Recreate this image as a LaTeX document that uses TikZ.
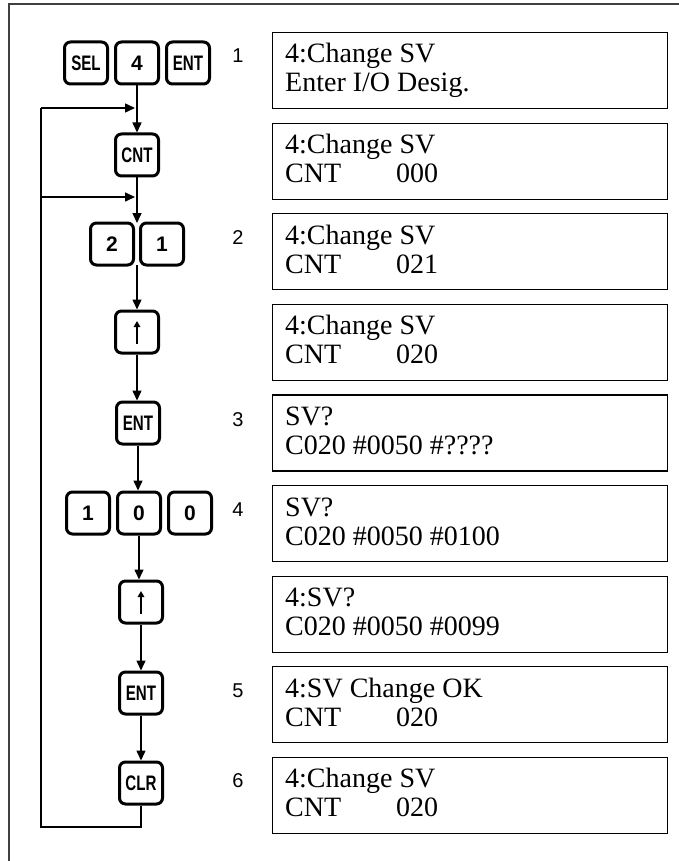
\documentclass[tikz,border=0pt]{standalone}
\usepackage{fontspec}
\usepackage{graphicx}
\setmainfont{Liberation Serif}
\newfontfamily\keyfont{Liberation Sans}
\usetikzlibrary{arrows.meta}
\newcommand\keylab[1]{\scalebox{0.72}[1]{#1}}
\begin{document}
\begin{tikzpicture}[x=1pt,y=-1pt,
  key/.style={draw, line width=3pt, rounded corners=6pt, minimum width=43pt, minimum height=42pt, inner sep=0pt, font=\keyfont\bfseries\fontsize{21}{21}\selectfont},
  disp/.style={draw, line width=1.1pt, minimum width=395pt, minimum height=76pt, inner sep=0pt, anchor=north west},
  txt/.style={anchor=base west, inner sep=0pt, font=\fontsize{28}{30}\selectfont},
  num/.style={font=\keyfont\fontsize{20}{20}\selectfont, inner sep=0pt},
  flow/.style={line width=1.5pt, -{Triangle[length=10pt,width=9pt]}},
  plain/.style={line width=1.5pt},
  uparrow/.style={line width=1.8pt, -{Triangle[length=6pt,width=6.5pt]}},
]
\useasboundingbox (0,0) rectangle (679,861);
% outer frame
\draw[line width=1.3pt, black!75] (9,861) -- (9,4) -- (679,4);

% display boxes
\node[disp] (d1) at (272,32) {};
\node[txt] (d1a) at (285,63) {4:Change SV};
\node[txt] (d1b) at (285,92) {Enter I/O Desig.};

\node[disp] (d2) at (272,122.6) {};
\node[txt] (d2a) at (285,153.6) {4:Change SV};
\node[txt] (d2b) at (285,182.6) {CNT};
\node[txt] (d2c) at (396,182.6) {000};

\node[disp] (d3) at (272,213.2) {};
\node[txt] (d3a) at (285,244.2) {4:Change SV};
\node[txt] (d3b) at (285,273.2) {CNT};
\node[txt] (d3c) at (396,273.2) {021};

\node[disp] (d4) at (272,303.8) {};
\node[txt] (d4a) at (285,334.8) {4:Change SV};
\node[txt] (d4b) at (285,363.8) {CNT};
\node[txt] (d4c) at (396,363.8) {020};

\node[disp] (d5) at (272,394.4) {};
\node[txt] (d5a) at (285,425.4) {SV?};
\node[txt] (d5b) at (285,454.4) {C020 \#0050 \#????};

\node[disp] (d6) at (272,485) {};
\node[txt] (d6a) at (285,516) {SV?};
\node[txt] (d6b) at (285,545) {C020 \#0050 \#0100};

\node[disp] (d7) at (272,575.6) {};
\node[txt] (d7a) at (285,606.6) {4:SV?};
\node[txt] (d7b) at (285,635.6) {C020 \#0050 \#0099};

\node[disp] (d8) at (272,666.2) {};
\node[txt] (d8a) at (285,697.2) {4:SV Change OK};
\node[txt] (d8b) at (285,726.2) {CNT};
\node[txt] (d8c) at (396,726.2) {020};

\node[disp] (d9) at (272,756.8) {};
\node[txt] (d9a) at (285,787.8) {4:Change SV};
\node[txt] (d9b) at (285,816.8) {CNT};
\node[txt] (d9c) at (396,816.8) {020};

% step numbers
\node[num] (n1) at (238,56) {1};
\node[num] (n2) at (238,238) {2};
\node[num] (n3) at (238,420) {3};
\node[num] (n4) at (238,510) {4};
\node[num] (n5) at (238,691) {5};
\node[num] (n6) at (238,781) {6};

% keys
\node[key] (sel) at (86,63) {\keylab{SEL}};
\node[key] (kfour) at (137,63) {4};
\node[key] (entA) at (188,63) {\keylab{ENT}};
\node[key] (cnt) at (137,155) {\keylab{CNT}};
\node[key] (ktwo) at (112,244) {2};
\node[key] (kone) at (162,244) {1};
\node[key] (upA) at (137,332) {};
\node[key] (entB) at (138,423) {\keylab{ENT}};
\node[key] (kone2) at (88,513) {1};
\node[key] (kzeroA) at (139,513) {0};
\node[key] (kzeroB) at (190,513) {0};
\node[key] (upB) at (141,602) {};
\node[key] (entC) at (141,693) {\keylab{ENT}};
\node[key] (clr) at (141,783) {\keylab{CLR}};

% up arrow glyphs
\draw[uparrow] ([yshift=-12pt]upA.center) -- ([yshift=11pt]upA.center);
\draw[uparrow] ([yshift=-12pt]upB.center) -- ([yshift=11pt]upB.center);

% coordinates
\coordinate (gapT) at (137,223);
\coordinate (gapB) at (137,265);
\coordinate (loopBR) at (141,827);
\coordinate (loopBL) at (41,827);
\coordinate (loopT1) at (41,108);
\coordinate (loopT2) at (41,197);
\coordinate (hit1) at (135,108);
\coordinate (hit2) at (135,197);

% flow arrows
\draw[flow] (kfour.south) -- (cnt.north);
\draw[flow] (cnt.south) -- (gapT);
\draw[flow] (gapB) -- (upA.north);
\draw[flow] (upA.south) -- (upA.south |- entB.north);
\draw[flow] (entB.south) -- (entB.south |- kzeroA.north);
\draw[flow] (kzeroA.south) -- (kzeroA.south |- upB.north);
\draw[flow] (upB.south) -- (entC.north);
\draw[flow] (entC.south) -- (clr.north);

% loop back
\draw[plain] (clr.south) -- (loopBR) -- (loopBL) -- (loopT1);
\draw[flow] (loopT1) -- (hit1);
\draw[flow] (loopT2) -- (hit2);
\end{tikzpicture}
\end{document}
